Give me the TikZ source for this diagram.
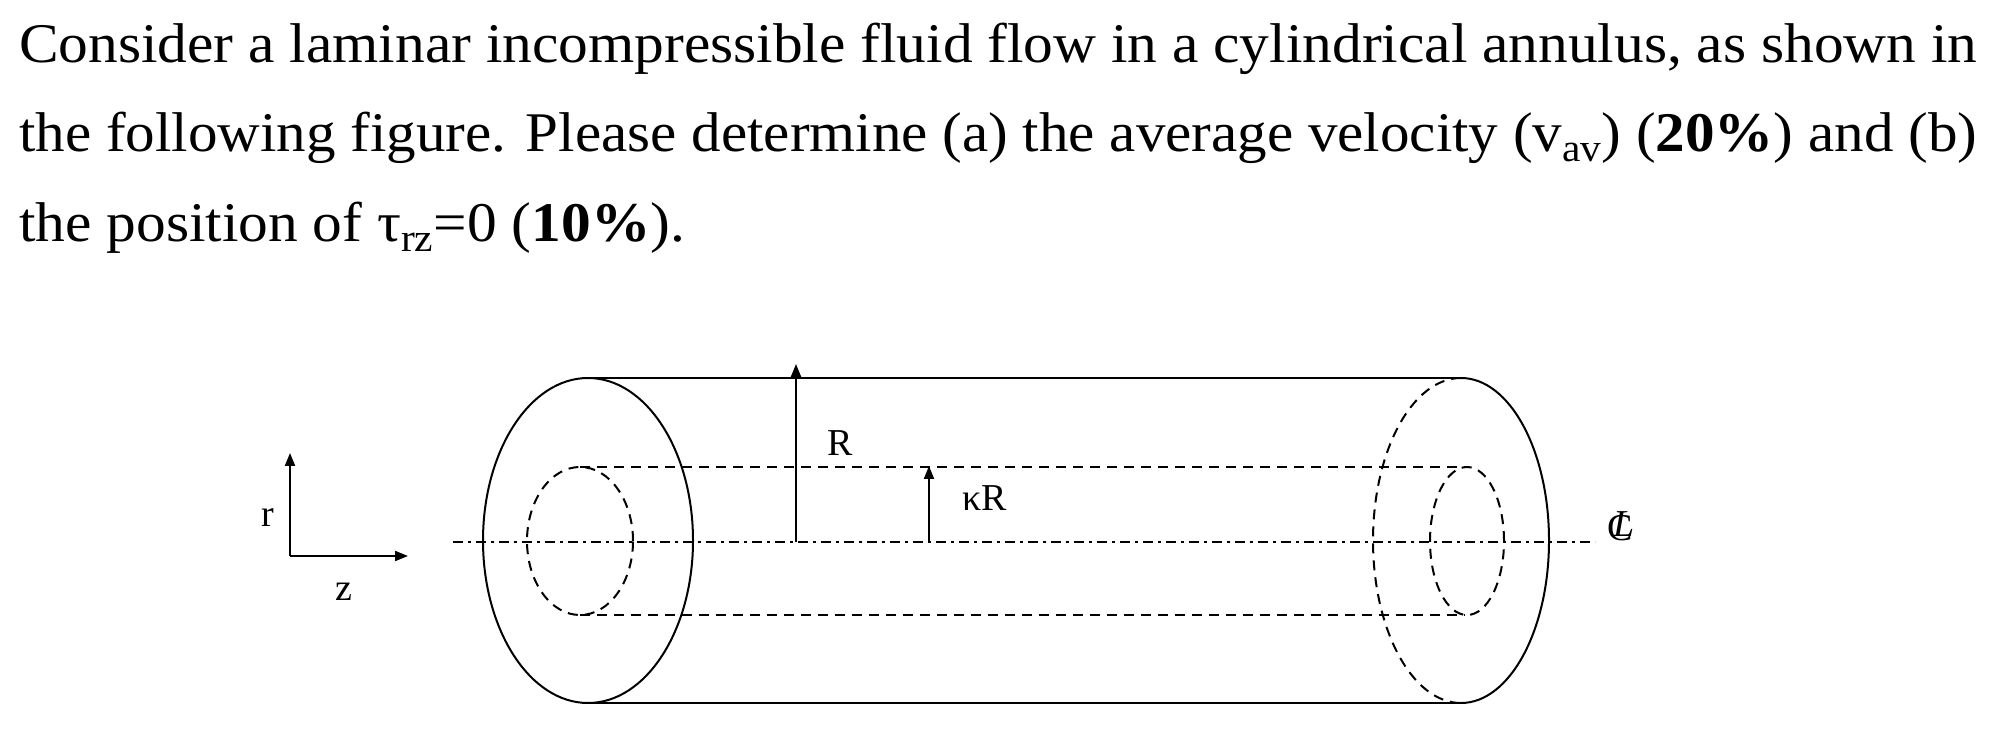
\documentclass[tikz,border=0pt]{standalone}
\usepackage{fontspec}
\setmainfont{Liberation Serif}
\usetikzlibrary{arrows.meta}
\newsavebox\lineonebox
\newsavebox\linetwobox
\begin{document}
\sbox\lineonebox{\fontsize{56}{56}\selectfont Consider a laminar incompressible fluid flow in a cylindrical annulus, as shown in}%
\sbox\linetwobox{\fontsize{56}{56}\selectfont the following figure. Please determine (a) the average velocity (v\textsubscript{av}) (\textbf{20\%}) and (b)}%
\pgfmathsetmacro\sxa{1958/(\wd\lineonebox/1pt)}%
\pgfmathsetmacro\sxb{1958/(\wd\linetwobox/1pt)}%
\begin{tikzpicture}[x=1pt,y=1pt,
  txt/.style={anchor=base west,inner sep=0pt,font=\fontsize{56}{56}\selectfont},
  lbl/.style={inner sep=0pt,font=\fontsize{38}{38}\selectfont},
  solid line/.style={line width=2pt},
  dash line/.style={line width=2pt,dash pattern=on 10pt off 7pt},
  axis line/.style={line width=2pt,dash pattern=on 10pt off 5pt on 3pt off 5pt},
  arr/.style={line width=2pt,-{Triangle[length=13pt,width=10pt]}}]
\useasboundingbox (0,0) rectangle (2012,750);
\node[txt] (l1) at (19,687) {\scalebox{\sxa}[1]{\usebox\lineonebox}};
\node[txt] (l2) at (19,598) {\scalebox{\sxb}[1]{\usebox\linetwobox}};
\node[txt] (l3) at (19,508) {\scalebox{\sxa}[1]{the position of τ\textsubscript{rz}=0 (\textbf{10\%}).}};
% coordinate axes
\coordinate (o) at (290,194);
\coordinate (rt) at (290,297);
\coordinate (zt) at (408,194);
\draw[arr] (o) -- (rt);
\draw[arr] (o) -- (zt);
\node[lbl] (r) at (268,232) {r};
\node[lbl] (z) at (344,158) {z};
% centre line
\coordinate (a1) at (453,208);
\coordinate (a2) at (1595,208);
\draw[axis line] (a1) -- (a2);
\node[lbl] (cc) at (1620,222) {C};
\node[lbl] (cl) at (1624,226) {\itshape L};
% outer cylinder
\draw[solid line] (588,209.5) ellipse[x radius=105,y radius=162.5];
\coordinate (t1) at (588,372); \coordinate (t2) at (1461,372);
\coordinate (b1) at (588,47); \coordinate (b2) at (1461,47);
\draw[solid line] (t1) -- (t2);
\draw[solid line] (b1) -- (b2);
\draw[solid line] (t2) arc[start angle=90,end angle=-90,x radius=88,y radius=162.5];
\draw[dash line] (t2) arc[start angle=90,end angle=270,x radius=88,y radius=162.5];
% inner cylinder
\draw[dash line] (580,209) ellipse[x radius=53,y radius=74];
\draw[dash line] (1467,209) ellipse[x radius=37,y radius=74];
\coordinate (i1) at (580,283); \coordinate (i2) at (1465,283);
\coordinate (j1) at (580,135); \coordinate (j2) at (1465,135);
\draw[dash line] (i1) -- (i2);
\draw[dash line] (j1) -- (j2);
% radii
\coordinate (R0) at (796,208); \coordinate (R1) at (796,386);
\draw[arr] (R0) -- (R1);
\node[lbl] (Rl) at (840,307) {R};
\coordinate (k0) at (929,208); \coordinate (k1) at (929,284);
\draw[arr] (k0) -- (k1);
\node[lbl] (kl) at (985,252) {κR};
\end{tikzpicture}
\end{document}
